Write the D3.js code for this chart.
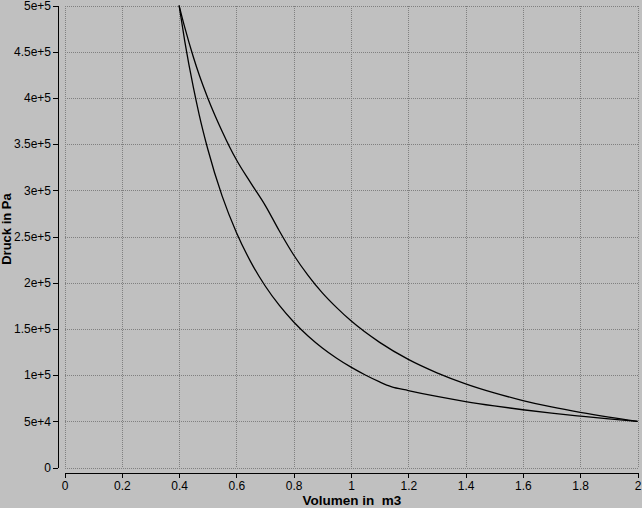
<!DOCTYPE html>
<html><head><meta charset="utf-8">
<script src="https://cdn.jsdelivr.net/npm/d3@7"></script>
<style>
html,body{margin:0;padding:0;background:#c0c0c0;}
svg{display:block;}
text{font-family:"Liberation Sans","DejaVu Sans",Arial,sans-serif;fill:#000;}
</style></head>
<body>
<svg id="chart" width="642" height="508"></svg>
<script>
// Data
const xTicks = [0, 0.2, 0.4, 0.6, 0.8, 1, 1.2, 1.4, 1.6, 1.8, 2];
const xTickLabels = ["0", "0.2", "0.4", "0.6", "0.8", "1", "1.2", "1.4", "1.6", "1.8", "2"];
const yTicks = [0, 50000, 100000, 150000, 200000, 250000, 300000, 350000, 400000, 450000, 500000];
const yTickLabels = ["0", "5e+4", "1e+5", "1.5e+5", "2e+5", "2.5e+5", "3e+5", "3.5e+5", "4e+5", "4.5e+5", "5e+5"];

// upper curve (volume, pressure)
const upperV = [0.40, 0.42, 0.45, 0.47, 0.50, 0.55, 0.60, 0.65, 0.70, 0.75, 0.80, 0.85, 0.90, 0.95, 1.00, 1.10, 1.20, 1.30, 1.40, 1.50, 1.60, 1.70, 1.80, 1.90, 2.00];
const upperP = [500000, 476000, 444000, 425000, 400000, 364000, 333000, 308000, 284000, 256000, 230000, 208000, 189000, 173000, 158700, 135400, 117000, 102500, 90600, 80800, 72500, 65500, 59600, 54500, 50000];
// lower curve (volume, pressure)
const lowerV = [0.40, 0.42, 0.45, 0.47, 0.50, 0.55, 0.60, 0.65, 0.70, 0.75, 0.80, 0.85, 0.90, 0.95, 1.00, 1.05, 1.10, 1.14, 1.20, 1.30, 1.40, 1.50, 1.60, 1.70, 1.80, 1.90, 2.00];
const lowerP = [500000, 461000, 411000, 382000, 344700, 294000, 254400, 222600, 196700, 175400, 157500, 142400, 129400, 118300, 108600, 100100, 92600, 87500, 83300, 76900, 71400, 66700, 62500, 58800, 55600, 52600, 50000];

const svg = d3.select("#chart");
const x = d3.scaleLinear().domain([0, 2]).range([64.5, 637.5]);
const y = d3.scaleLinear().domain([0, 500000]).range([467.5, 5.5]);

// grid
const grid = svg.append("g").attr("stroke", "#808080").attr("stroke-width", 1).attr("stroke-dasharray", "1,1").attr("shape-rendering", "crispEdges");
grid.selectAll("line.v").data(xTicks).join("line").attr("class", "v")
  .attr("x1", d => Math.round(x(d)) + 0.5).attr("x2", d => Math.round(x(d)) + 0.5)
  .attr("y1", y(500000)).attr("y2", y(0));
grid.selectAll("line.h").data(yTicks).join("line").attr("class", "h")
  .attr("y1", d => Math.round(y(d)) + 0.5).attr("y2", d => Math.round(y(d)) + 0.5)
  .attr("x1", x(0)).attr("x2", x(2));

// y axis
const yAxis = d3.axisLeft(y).tickValues(yTicks).tickFormat((d, i) => yTickLabels[i]).tickSize(5).tickPadding(2);
const gy = svg.append("g").attr("transform", "translate(58,0)").call(yAxis);
gy.select(".domain").attr("d", "M0," + y(500000) + "V" + y(0)).attr("stroke", "#000");
gy.selectAll(".tick line").attr("stroke", "#000");
gy.selectAll("text").style("font-size", "12px").attr("fill", "#000");
gy.attr("shape-rendering", "crispEdges");

// x axis
const xAxis = d3.axisBottom(x).tickValues(xTicks).tickFormat((d, i) => xTickLabels[i]).tickSize(5).tickPadding(3);
const gx = svg.append("g").attr("transform", "translate(0,473)").call(xAxis);
gx.select(".domain").attr("d", "M" + x(0) + ",0H" + x(2)).attr("stroke", "#000");
gx.selectAll(".tick line").attr("stroke", "#000");
gx.selectAll("text").style("font-size", "12px").attr("fill", "#000");
gx.attr("shape-rendering", "crispEdges");

// axis titles
svg.append("text").attr("x", 352).attr("y", 505).attr("text-anchor", "middle")
  .style("font-size", "13.5px").style("font-weight", "bold").style("white-space", "pre")
  .text("Volumen in  m3");
svg.append("text").attr("transform", "translate(11,229) rotate(-90)").attr("text-anchor", "middle")
  .style("font-size", "13px").style("font-weight", "bold")
  .text("Druck in Pa");

// curves
const line = d3.line().x(d => x(d[0])).y(d => y(d[1])).curve(d3.curveMonotoneX);
const upper = upperV.map((v, i) => [v, upperP[i]]);
const lower = lowerV.map((v, i) => [v, lowerP[i]]);
svg.append("path").datum(upper).attr("d", line).attr("fill", "none").attr("stroke", "#000").attr("stroke-width", 1.3);
svg.append("path").datum(lower).attr("d", line).attr("fill", "none").attr("stroke", "#000").attr("stroke-width", 1.3);
</script>
</body></html>
